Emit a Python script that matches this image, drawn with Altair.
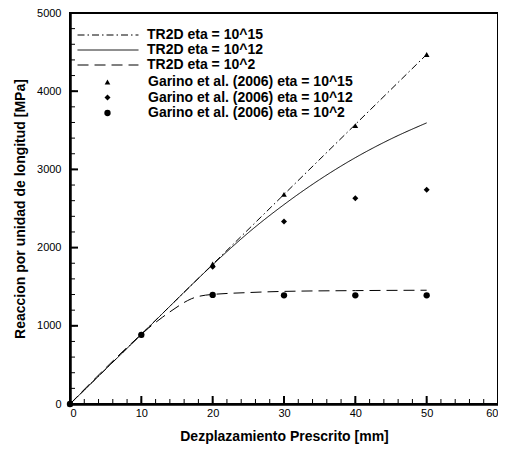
import altair as alt
import pandas as pd

FONT = "Liberation Sans"

line_names = ["TR2D eta = 10^15", "TR2D eta = 10^12", "TR2D eta = 10^2"]
pt_names = ["Garino et al. (2006) eta = 10^15",
            "Garino et al. (2006) eta = 10^12",
            "Garino et al. (2006) eta = 10^2"]

# TR2D curves
l15_x = [0, 10, 20, 30, 40, 50]
l15_y = [0, 893, 1786, 2680, 3575, 4470]
l12_x = [0, 10, 20, 22.5, 25, 30, 35, 40, 45, 50]
l12_y = [0, 890, 1780, 1990, 2190, 2550, 2870, 3150, 3390, 3595]
l2_x = [0, 10, 11, 12, 13, 14, 15, 16, 17, 18, 19, 20, 25, 30, 40, 50]
l2_y = [0, 890, 970, 1043, 1112, 1178, 1240, 1298, 1345, 1375, 1392, 1401, 1425, 1440, 1450, 1455]

# Garino et al. points
p_x = [0, 10, 20, 30, 40, 50]
p15_y = [0, 885, 1790, 2680, 3560, 4470]
p12_y = [0, 885, 1755, 2335, 2630, 2740]
p2_y = [0, 885, 1395, 1390, 1390, 1390]

x_major = [0, 10, 20, 30, 40, 50, 60]
x_minor = list(range(0, 61, 2))
y_major = [0, 1000, 2000, 3000, 4000, 5000]
y_minor = list(range(0, 5001, 200))

rows = []
for name, xs_, ys_ in zip(line_names, [l15_x, l12_x, l2_x], [l15_y, l12_y, l2_y]):
    for i, (a, b) in enumerate(zip(xs_, ys_)):
        rows.append({"x": a, "y": b, "series": name, "i": i})
lines_df = pd.DataFrame(rows)

rows = []
for name, ys_ in zip(pt_names, [p15_y, p12_y, p2_y]):
    for a, b in zip(p_x, ys_):
        rows.append({"x": a, "y": b, "series": name})
pts_df = pd.DataFrame(rows)

W, H = 428, 391
xs = alt.Scale(domain=[0, 60], nice=False, zero=False)
ys = alt.Scale(domain=[0, 5000], nice=False)

x_axis = alt.Axis(values=x_major, ticks=False, tickSize=0, grid=False, format="d",
                  labelFont=FONT, labelFontSize=11, labelColor="black",
                  labelPadding=3, domainColor="black", domainWidth=2.5,
                  title="Dezplazamiento Prescrito [mm]", titleFont=FONT,
                  titleFontSize=14, titleFontWeight="bold", titleColor="black",
                  titlePadding=11)
y_axis = alt.Axis(values=y_major, ticks=False, tickSize=0, grid=False, format="d",
                  labelFont=FONT, labelFontSize=11, labelColor="black",
                  labelPadding=9, domainColor="black", domainWidth=2.5,
                  title="Reaccion por unidad de longitud [MPa]", titleFont=FONT,
                  titleFontSize=14, titleFontWeight="bold", titleColor="black",
                  titlePadding=9)

X = lambda: alt.X("x:Q", scale=xs, axis=x_axis)
Y = lambda: alt.Y("y:Q", scale=ys, axis=y_axis)

leg_common = dict(title=None, orient="none", labelFont=FONT, labelFontSize=14,
                  labelFontWeight="bold", labelColor="black", padding=0,
                  labelLimit=400)

lines = alt.Chart(lines_df).mark_line(color="black", strokeWidth=1, interpolate="monotone").encode(
    x=X(), y=Y(),
    strokeDash=alt.StrokeDash("series:N",
                              scale=alt.Scale(domain=line_names, range=[[7, 3, 1.5, 3], [1, 0], [11, 6]]),
                              legend=alt.Legend(legendX=31, legendY=15, symbolType="M-5.08,0H5.08",
                                                symbolSize=144, symbolStrokeColor="black",
                                                symbolStrokeWidth=1, labelOffset=32, rowPadding=1,
                                                **leg_common)),
    order="i:Q",
)

pts = alt.Chart(pts_df).mark_point(filled=True, color="black", opacity=1).encode(
    x=X(), y=Y(),
    shape=alt.Shape("series:N", scale=alt.Scale(domain=pt_names, range=["triangle-up", "diamond", "circle"]),
                    legend=alt.Legend(legendX=30.5, legendY=62, labelOffset=33.5, rowPadding=1.5,
                                      **leg_common)),
    size=alt.Size("series:N", scale=alt.Scale(domain=pt_names, range=[32, 40, 55]),
                  legend=alt.Legend(legendX=30.5, legendY=62, labelOffset=33.5, rowPadding=1.5,
                                    **leg_common)),
)

xmaj = alt.Chart(pd.DataFrame({"x": x_major})).mark_rule(color="black", strokeWidth=2).encode(
    x=X(), y=alt.value(H), y2=alt.value(H - 8))
xmin = alt.Chart(pd.DataFrame({"x": x_minor})).mark_rule(color="black", strokeWidth=1).encode(
    x=X(), y=alt.value(H), y2=alt.value(H - 5))
ymaj = alt.Chart(pd.DataFrame({"y": y_major})).mark_rule(color="black", strokeWidth=2).encode(
    y=Y(), x=alt.value(0), x2=alt.value(8))
ymin = alt.Chart(pd.DataFrame({"y": y_minor})).mark_rule(color="black", strokeWidth=1).encode(
    y=Y(), x=alt.value(0), x2=alt.value(5))

chart = alt.layer(lines, pts, xmin, xmaj, ymin, ymaj).properties(
    width=W, height=H, autosize=alt.AutoSizeParams(type="none"),
    padding={"left": 62, "top": 5, "right": 0, "bottom": 42}
).configure_view(stroke="black", strokeWidth=2).configure_axis(grid=False)

chart.save("out.html", embed_options={"renderer": "svg", "actions": False})
